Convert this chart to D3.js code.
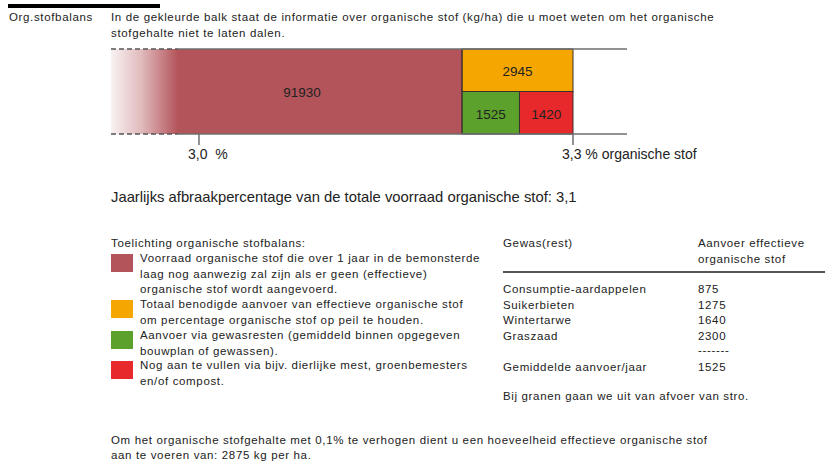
<!DOCTYPE html>
<html>

<head>
    <meta charset="utf-8" />
    <title>Org.stofbalans</title>
    <script src="https://d3js.org/d3.v7.min.js"></script>
    <style>
        body {
            margin: 0;
            background: #fff;
        }

        text {
            font-family: "Liberation Sans", Arial, sans-serif;
            fill: #222;
        }

        .small {
            font-size: 11.5px;
            letter-spacing: 0.65px;
        }
    </style>
</head>

<body>
    <svg id="chart" width="825" height="463"></svg>

    <script>
        // balk: voorraad, benodigd, gewasresten, aan te vullen (kg/ha)
        var barKeys = ["voorraad", "benodigd", "gewasresten", "aanvullen"];
        var barValues = [91930, 2945, 1525, 1420];

        // percentage-as
        var tickPct = [3.0, 3.3];
        var tickLabels = ["3,0  %", "3,3 % organische stof"];
        var kgPerTenth = 2875;
        var afbraak = "3,1";

        var legendTexts = [
            ["Voorraad organische stof die over 1 jaar in de bemonsterde",
                "laag nog aanwezig zal zijn als er geen (effectieve)",
                "organische stof wordt aangevoerd."],
            ["Totaal benodigde aanvoer van effectieve organische stof",
                "om percentage organische stof op peil te houden."],
            ["Aanvoer via gewasresten (gemiddeld binnen opgegeven",
                "bouwplan of gewassen)."],
            ["Nog aan te vullen via bijv. dierlijke mest, groenbemesters",
                "en/of compost."]
        ];

        var crops = ["Consumptie-aardappelen", "Suikerbieten", "Wintertarwe", "Graszaad"];
        var cropValues = [875, 1275, 1640, 2300];
        var gemiddeld = 1525;

        var colors = {
            voorraad: "#b3545a",
            benodigd: "#f5a600",
            gewasresten: "#5ca12c",
            aanvullen: "#e8292b"
        };

        var svg = d3.select("#chart");

        // kop
        svg.append("rect").attr("x", 8).attr("y", 4).attr("width", 152).attr("height", 4).attr("fill", "#000");
        svg.append("text").attr("class", "small").attr("x", 9).attr("y", 21).text("Org.stofbalans");
        svg.append("text").attr("class", "small").attr("x", 111).attr("y", 21)
            .text("In de gekleurde balk staat de informatie over organische stof (kg/ha) die u moet weten om het organische");
        svg.append("text").attr("class", "small").attr("x", 111).attr("y", 37).text("stofgehalte niet te laten dalen.");

        // schalen
        var total = barValues[0] + barValues[1];
        var pctToKg = p => total - (tickPct[1] - p) * 10 * kgPerTenth;
        var kgStart = pctToKg(tickPct[0]) - 1900;
        var x = d3.scaleLinear()
            .domain([kgStart, barValues[0], total])
            .range([111, 462, 573]);
        var y = d3.scaleBand().domain(["boven", "onder"]).range([49, 134]);

        // segmenten
        var v = barValues;
        var segs = [
            { key: barKeys[0], x0: kgStart, x1: v[0], row: null, value: v[0] },
            { key: barKeys[1], x0: v[0], x1: v[0] + v[1], row: "boven", value: v[1] },
            { key: barKeys[2], x0: v[0], x1: v[0] + v[2], row: "onder", value: v[2] },
            { key: barKeys[3], x0: v[0] + v[2], x1: v[0] + v[2] + v[3], row: "onder", value: v[3] }
        ];

        var fadeEnd = x(kgStart) + 67;
        var grad = svg.append("defs").append("linearGradient")
            .attr("id", "fade")
            .attr("gradientUnits", "userSpaceOnUse")
            .attr("x1", x(kgStart)).attr("x2", fadeEnd).attr("y1", 0).attr("y2", 0);
        grad.append("stop").attr("offset", 0).attr("stop-color", colors.voorraad).attr("stop-opacity", 0.08);
        grad.append("stop").attr("offset", 0.45).attr("stop-color", colors.voorraad).attr("stop-opacity", 0.4);
        grad.append("stop").attr("offset", 1).attr("stop-color", colors.voorraad).attr("stop-opacity", 1);

        var yTop = y.range()[0], yBot = y.range()[1];

        svg.selectAll("rect.seg")
            .data(segs)
            .enter()
            .append("rect")
            .attr("class", "seg")
            .attr("x", d => x(d.x0))
            .attr("width", d => x(d.x1) - x(d.x0))
            .attr("y", d => d.row ? y(d.row) : yTop)
            .attr("height", d => d.row ? y.bandwidth() : yBot - yTop)
            .attr("fill", d => d.key == "voorraad" ? "url(#fade)" : colors[d.key])
            .attr("stroke", d => d.key == "voorraad" ? "none" : "#3a3030")
            .attr("stroke-width", 1);

        // rechterrand voorraad
        svg.append("line")
            .attr("x1", x(v[0])).attr("x2", x(v[0]))
            .attr("y1", yTop).attr("y2", yBot)
            .attr("stroke", "#3a3030");

        // boven- en onderlijnen
        [yTop, yBot].forEach(function (yy) {
            svg.append("line")
                .attr("x1", x(kgStart)).attr("x2", fadeEnd)
                .attr("y1", yy).attr("y2", yy)
                .attr("stroke", "#555").attr("stroke-width", 1.5)
                .attr("stroke-dasharray", "5,3");
            svg.append("line")
                .attr("x1", fadeEnd).attr("x2", x(total) + 54)
                .attr("y1", yy).attr("y2", yy)
                .attr("stroke", "#6e6e6e").attr("stroke-width", 1.5);
        });

        // waarden in de balk
        svg.selectAll("text.val")
            .data(segs)
            .enter()
            .append("text")
            .attr("class", "val")
            .attr("text-anchor", "middle")
            .attr("font-size", "13.5px")
            .attr("x", d => d.key == "voorraad" ? (fadeEnd + x(d.x1)) / 2 - 18 : (x(d.x0) + x(d.x1)) / 2)
            .attr("y", d => d.row ? y(d.row) + y.bandwidth() / 2 + 6 : (yTop + yBot) / 2 + 5)
            .text(d => d.value);

        // ticks
        svg.selectAll("line.tick")
            .data(tickPct)
            .enter()
            .append("line")
            .attr("class", "tick")
            .attr("x1", d => x(pctToKg(d))).attr("x2", d => x(pctToKg(d)))
            .attr("y1", yBot).attr("y2", yBot + 11)
            .attr("stroke", "#6e6e6e").attr("stroke-width", 1.5);

        svg.selectAll("text.tick")
            .data(tickPct)
            .enter()
            .append("text")
            .attr("class", "tick")
            .attr("font-size", "14px")
            .attr("x", d => x(pctToKg(d)) - 11)
            .attr("y", yBot + 25)
            .style("white-space", "pre")
            .text((d, i) => tickLabels[i]);

        svg.append("text")
            .attr("x", 111).attr("y", 202)
            .attr("font-size", "14.8px")
            .text("Jaarlijks afbraakpercentage van de totale voorraad organische stof: " + afbraak);

        // toelichting
        svg.append("text").attr("class", "small").attr("x", 111).attr("y", 247).text("Toelichting organische stofbalans:");

        var legendTop = [254, 300, 331, 361];
        var lg = svg.selectAll("g.leg")
            .data(legendTexts)
            .enter()
            .append("g")
            .attr("class", "leg")
            .attr("transform", (d, i) => "translate(111," + legendTop[i] + ")");

        lg.append("rect")
            .attr("width", 22).attr("height", 18)
            .attr("fill", (d, i) => colors[barKeys[i]]);

        lg.selectAll("text")
            .data(d => d)
            .enter()
            .append("text")
            .attr("class", "small")
            .attr("x", 29)
            .attr("y", (d, i) => 8 + i * 15.5)
            .text(d => d);

        // tabel gewasresten
        var tx0 = 503, tx1 = 698;
        svg.append("text").attr("class", "small").attr("x", tx0).attr("y", 247).text("Gewas(rest)");
        svg.append("text").attr("class", "small").attr("x", tx1).attr("y", 247).text("Aanvoer effectieve");
        svg.append("text").attr("class", "small").attr("x", tx1).attr("y", 263).text("organische stof");
        svg.append("line").attr("x1", tx0).attr("x2", 825).attr("y1", 272).attr("y2", 272)
            .attr("stroke", "#555").attr("stroke-width", 2);

        var rows = svg.selectAll("g.row")
            .data(crops)
            .enter()
            .append("g")
            .attr("class", "row")
            .attr("transform", (d, i) => "translate(0," + (293 + i * 15.5) + ")");
        rows.append("text").attr("class", "small").attr("x", tx0).text(d => d);
        rows.append("text").attr("class", "small").attr("x", tx1).text((d, i) => cropValues[i]);

        svg.append("text").attr("class", "small").attr("x", tx1).attr("y", 354).text("-------");
        svg.append("text").attr("class", "small").attr("x", tx0).attr("y", 371).text("Gemiddelde aanvoer/jaar");
        svg.append("text").attr("class", "small").attr("x", tx1).attr("y", 371).text(gemiddeld);
        svg.append("text").attr("class", "small").attr("x", tx0).attr("y", 400).text("Bij granen gaan we uit van afvoer van stro.");

        // voetnoot
        svg.append("text").attr("class", "small").attr("x", 111).attr("y", 444)
            .text("Om het organische stofgehalte met 0,1% te verhogen dient u een hoeveelheid effectieve organische stof");
        svg.append("text").attr("class", "small").attr("x", 111).attr("y", 459)
            .text("aan te voeren van: " + kgPerTenth + " kg per ha.");
    </script>
</body>

</html>
